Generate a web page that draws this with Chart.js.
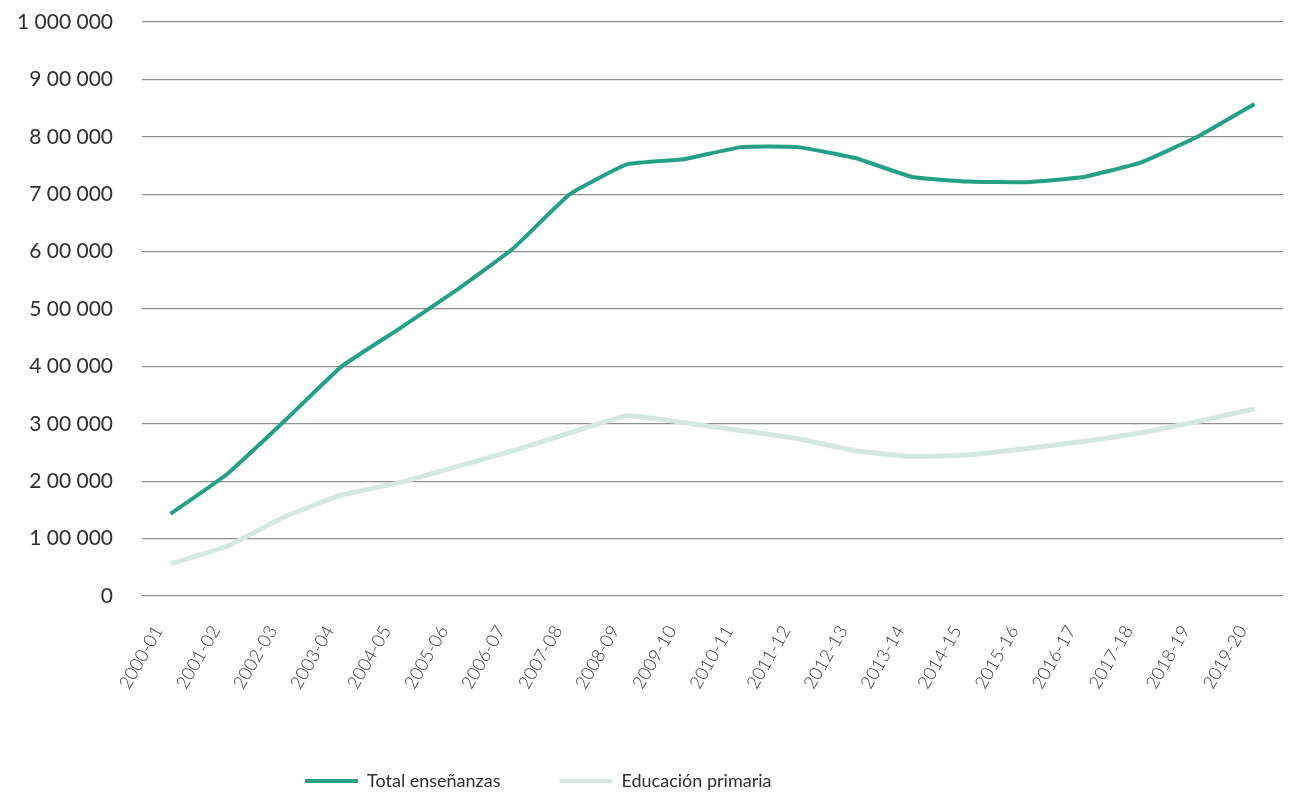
<!DOCTYPE html>
<html lang="es">
<head>
<meta charset="UTF-8">
<title>Total enseñanzas y Educación primaria</title>
<style>
  html, body { margin: 0; padding: 0; background: #fff; }
  #wrap { width: 1293px; height: 792px; }
</style>
</head>
<body>
<div id="wrap"><canvas id="chart" width="1293" height="792"></canvas></div>

<script src="https://cdn.jsdelivr.net/npm/chart.js@4"></script>
<script>
  // data
  const cursos = ['2000-01', '2001-02', '2002-03', '2003-04', '2004-05', '2005-06', '2006-07',
    '2007-08', '2008-09', '2009-10', '2010-11', '2011-12', '2012-13', '2013-14', '2014-15',
    '2015-16', '2016-17', '2017-18', '2018-19', '2019-20'];
  const totalEnsenanzas = [143000, 213000, 305000, 400000, 465000, 532000, 605000, 700000,
    752000, 761000, 782000, 782000, 763000, 730000, 722000, 721000, 730000, 755000, 800000, 857000];
  const educacionPrimaria = [56000, 87000, 138000, 176000, 197000, 225000, 253000, 284000,
    314000, 302000, 288000, 274000, 253000, 243000, 246000, 257000, 269000, 284000, 304000, 326000];
  const yTickLabels = { 0: '0', 1000000: '1 000 000' };

  const verde = '#24a086';
  const verdeClaro = '#d3e8e1';

  // move the legend to where it sits in the original
  const legendNudge = {
    id: 'legendNudge',
    afterLayout(chart) {
      chart.legend.left += 246;
      chart.legend.top += 8;
    }
  };

  new Chart(document.getElementById('chart'), {
    type: 'line',
    data: {
      labels: cursos,
      datasets: [
        { label: 'Total enseñanzas', data: totalEnsenanzas, borderColor: verde, backgroundColor: verde,
          borderWidth: 4, pointRadius: 0, tension: 0.12 },
        { label: 'Educación primaria', data: educacionPrimaria, borderColor: verdeClaro, backgroundColor: verdeClaro,
          borderWidth: 5, pointRadius: 0, tension: 0.12 }
      ]
    },
    options: {
      responsive: false,
      animation: false,
      layout: { padding: { top: 22, right: 10, left: 0, bottom: 0 } },
      scales: {
        x: {
          offset: true,
          grid: { display: false, drawTicks: false },
          border: { display: false },
          ticks: {
            minRotation: 60, maxRotation: 60, padding: 26, labelOffset: -12,
            color: '#3a3a3a', font: { family: 'Lato', size: 18, weight: '300' }
          },
          afterFit: s => { s.height = 109; s.paddingLeft = 0; s.paddingRight = 0; }
        },
        y: {
          min: 0, max: 1000000,
          grid: { color: '#8e8e8e', lineWidth: 1.3, drawTicks: false },
          border: { display: false },
          ticks: {
            stepSize: 100000, padding: 29, color: '#2e2e2e',
            font: { family: 'Lato', size: 21 },
            callback: v => yTickLabels[v] || (v / 100000) + ' 00 000'
          },
          afterFit: s => { s.width = 142; s.paddingTop = 0; s.paddingBottom = 0; }
        }
      },
      plugins: {
        tooltip: { enabled: false },
        legend: {
          position: 'bottom',
          align: 'start',
          labels: {
            boxWidth: 53, boxHeight: 4, padding: 59,
            color: '#2e2e2e', font: { family: 'Lato', size: 18 },
            generateLabels: chart => Chart.defaults.plugins.legend.labels.generateLabels(chart)
              .map(item => ({ ...item, lineWidth: 0 }))
          }
        }
      }
    },
    plugins: [legendNudge]
  });
</script>
</body>
</html>
